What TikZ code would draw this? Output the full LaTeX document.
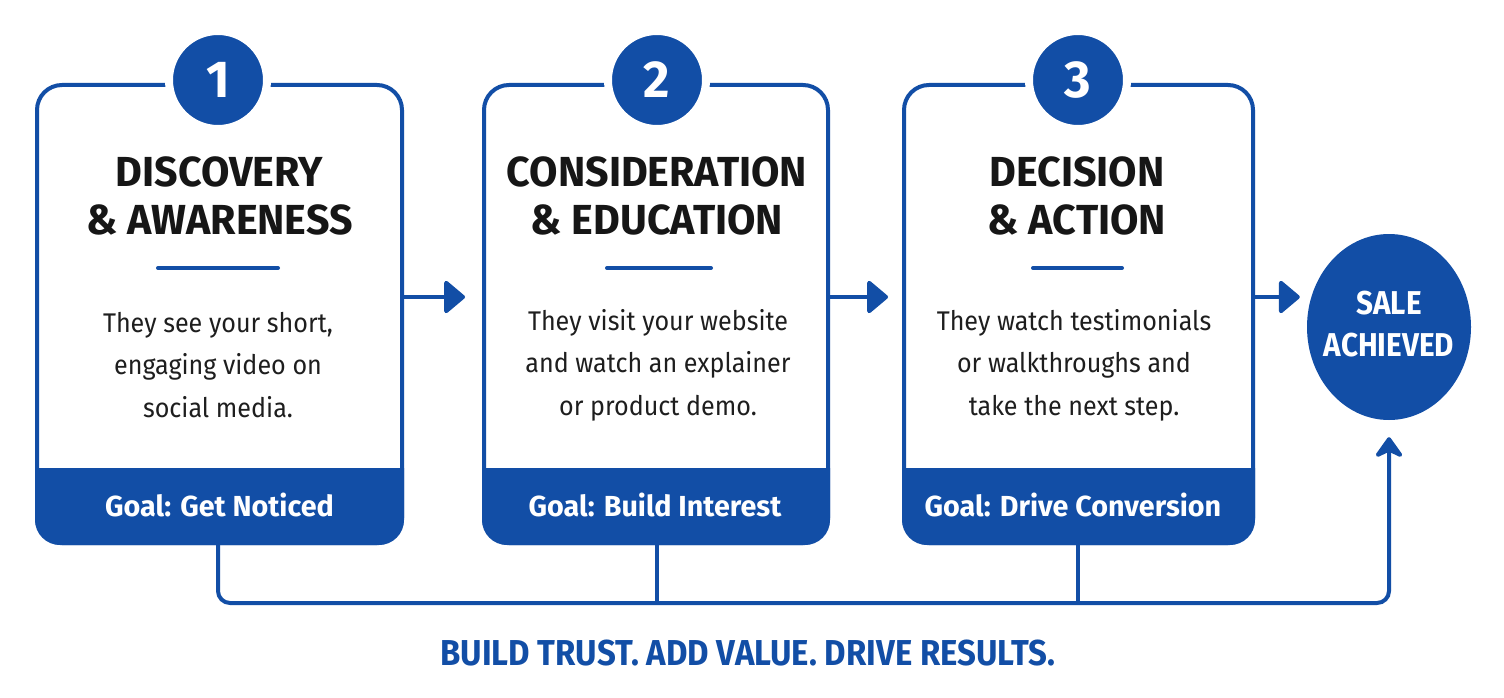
\documentclass[tikz,border=0pt]{standalone}
\usepackage{fontspec}
\setmainfont{Fira Sans}[FakeStretch=0.93]
\newfontfamily\ttlfont{Fira Sans}[FakeStretch=0.98]
\newfontfamily\goalfont{Fira Sans}[FakeStretch=0.99]
\newfontfamily\tagfont{Fira Sans}[FakeStretch=0.915]
\newfontfamily\salefont{Fira Sans}[FakeStretch=0.9]
\usetikzlibrary{shapes.geometric,arrows.meta,calc}
\definecolor{bl}{RGB}{18,78,166}
\definecolor{ink}{RGB}{22,22,22}
\definecolor{txt}{RGB}{30,30,30}
\begin{document}
\begin{tikzpicture}[x=1pt,y=-1pt,
  box/.style={draw=bl,line width=4pt,rounded corners=25pt,fill=white,minimum height=458pt,inner sep=0pt},
  num/.style={circle,fill=bl,draw=white,line width=8pt,minimum size=98pt,inner sep=0pt,text=white,font=\fontsize{52}{52}\ttlfont\bfseries},
  ttl/.style={align=center,text=ink,font=\fontsize{42}{48}\ttlfont\bfseries},
  body/.style={align=center,text=txt,font=\fontsize{27}{42.5}\selectfont},
  goal/.style={text=white,font=\fontsize{29}{30}\goalfont\bfseries},
  sep/.style={draw=bl,line width=4pt,line cap=round},
  conn/.style={draw=bl,line width=4pt},
  arr/.style={draw=bl,line width=4pt,-{Triangle[length=22pt,width=36pt,round]}},
  uparr/.style={draw=bl,line width=4pt,-{Stealth[length=24pt,width=34pt,inset=8pt,round]}}]
\useasboundingbox[fill=white] (0,0) rectangle (1504,698);

% boxes
\node[box,minimum width=365pt] (b1) at (219.5,314) {};
\node[box,minimum width=344pt] (b2) at (656,314) {};
\node[box,minimum width=349pt] (b3) at (1078.5,314) {};

% bottom bands
\foreach \b in {b1,b2,b3}{
  \fill[bl] (\b.west |- 0,468) {[rounded corners=25pt] -- (\b.south west) -- (\b.south east)} -- (\b.east |- 0,468) -- cycle;
}

% number circles
\node[num] (n1) at (218,80) {1};
\node[num] (n2) at (657,80) {2};
\node[num] (n3) at (1078,80) {3};

% titles
\node[ttl] (t1) at (219.5,196) {DISCOVERY\\\& AWARENESS};
\node[ttl] (t2) at (657,196) {CONSIDERATION\\\& EDUCATION};
\node[ttl] (t3) at (1077,196) {DECISION\\\& ACTION};

% separators
\draw[sep] (158,268) -- (278,268);
\draw[sep] (607,268) -- (711,268);
\draw[sep] (1033,268) -- (1122,268);

% bodies
\node[body] (d1) at (218,365) {They see your short,\\engaging video on\\social media.};
\node[body] (d2) at (658,365) {They visit your website\\and watch an explainer\\or product demo.};
\node[body] (d3) at (1074,365) {They watch testimonials\\or walkthroughs and\\take the next step.};

% goals
\node[goal] (g1) at (219.5,505) {Goal: Get Noticed};
\node[goal] (g2) at (655,505) {Goal: Build Interest};
\node[goal] (g3) at (1073,505) {Goal: Drive Conversion};

% sale
\node[ellipse,fill=bl,minimum width=164pt,minimum height=186pt,inner sep=0pt] (sale) at (1389,327) {};
\node[align=center,text=white,font=\fontsize{33}{42}\salefont\bfseries] (saletxt) at (1389,324) {SALE\\ACHIEVED};

% arrows between
\coordinate (ay) at (0,297);
\draw[arr,shorten >=17pt] (b1.east |- ay) -- (b2.west |- ay);
\draw[arr,shorten >=14pt] (b2.east |- ay) -- (b3.west |- ay);
\draw[arr,shorten >=7pt] (b3.east |- ay) -- (sale.west |- ay);

% bottom loop
\coordinate (base) at (0,603);
\draw[uparr,rounded corners=12pt,shorten >=17pt] (n1 |- b1.south) -- (n1 |- base) -| (sale.south);
\draw[conn] (n2 |- b2.south) -- (n2 |- base);
\draw[conn] (n3 |- b3.south) -- (n3 |- base);

% tagline
\node[text=bl,font=\fontsize{36}{36}\tagfont\bfseries] (tag) at (748,653) {BUILD TRUST. ADD VALUE. DRIVE RESULTS.};
\end{tikzpicture}
\end{document}
